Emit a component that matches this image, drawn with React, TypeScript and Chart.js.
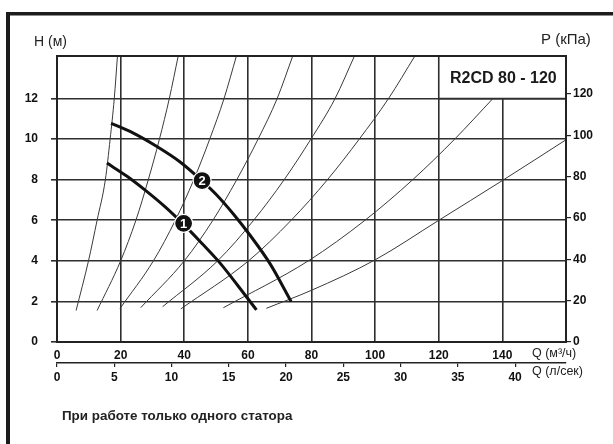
import React, { useEffect, useRef } from 'react';
import { Chart, registerables } from 'chart.js';

Chart.register(...registerables);

// ---- tick labels ----
const qTicksM3h = [0, 20, 40, 60, 80, 100, 120, 140];
const qTicksLs = [0, 5, 10, 15, 20, 25, 30, 35, 40];
const hTicks = [0, 2, 4, 6, 8, 10, 12];
const pTicks = [0, 20, 40, 60, 80, 100, 120];
const qMaxM3h = 160;
const hMax = 14.1;

// ---- pump curves (Q m3/h, H m) ----
const pump1Q = [15.7, 22, 28, 34, 39.7, 45.5, 51.2, 57, 62.7];
const pump1H = [8.82, 8.17, 7.45, 6.66, 5.81, 4.87, 3.9, 2.75, 1.58];
const pump2Q = [17, 24, 31.4, 38.5, 45.5, 50.2, 55.5, 60.5, 67, 73.6];
const pump2H = [10.78, 10.3, 9.64, 8.9, 7.96, 7.25, 6.3, 5.3, 3.85, 1.99];

// ---- system (pipe) curves ----
const sysAQ = [6.0, 9.9, 12.6, 15.2, 16.7, 18.0, 19.0];
const sysAH = [1.55, 4.0, 6.0, 8.0, 10.0, 12.0, 14.1];
const sysBQ = [12.6, 20.0, 24.8, 28.7, 32.2, 35.3, 38.1];
const sysBH = [1.55, 4.0, 6.0, 8.0, 10.0, 12.0, 14.1];
const sysCQ = [19.8, 30.3, 37.2, 43.0, 48.0, 52.5, 56.4];
const sysCH = [1.65, 4.0, 6.0, 8.0, 10.0, 12.0, 14.1];
const sysDQ = [26.3, 40.0, 49.0, 56.5, 63.2, 69.2, 74.1];
const sysDH = [1.69, 4.0, 6.0, 8.0, 10.0, 12.0, 14.1];
const sysEQ = [33.2, 50.5, 61.8, 71.4, 79.8, 87.4, 93.5];
const sysEH = [1.74, 4.0, 6.0, 8.0, 10.0, 12.0, 14.1];
const sysFQ = [38.9, 60.2, 73.6, 85.0, 95.0, 104.2, 112.5];
const sysFH = [1.63, 4.0, 6.0, 8.0, 10.0, 12.0, 14.1];
const sysGQ = [52.3, 79.0, 96.8, 111.8, 125.0, 137.0];
const sysGH = [1.69, 4.0, 6.0, 8.0, 10.0, 12.0];
const sysHQ = [65.8, 80, 100, 120, 140, 160];
const sysHH = [1.66, 2.55, 4.05, 6.0, 7.96, 9.97];

// ---- curve badges ----
const badgeQ = [39.8, 45.6];
const badgeH = [5.85, 7.96];
const badgeLabels = ['1', '2'];

// ---- texts ----
const modelName = 'R2CD 80 - 120';
const hTitle = 'H (м)';
const pTitle = 'P (кПа)';
const qTitleM3h = 'Q (м³/ч)';
const qTitleLs = 'Q (л/сек)';
const note = 'При работе только одного статора';

const FONT = "'Liberation Sans', Arial, Helvetica, sans-serif";
const gridColor = '#2e2e2e';

const pts = (q: number[], h: number[]) => q.map((v, i) => ({ x: v, y: h[i] }));

const systemSets = [
  [sysAQ, sysAH], [sysBQ, sysBH], [sysCQ, sysCH], [sysDQ, sysDH],
  [sysEQ, sysEH], [sysFQ, sysFH], [sysGQ, sysGH], [sysHQ, sysHH],
];

const decorPlugin = {
  id: 'decor',
  afterDatasetsDraw(chart: any) {
    const { ctx, chartArea, scales } = chart;
    const x = scales.x;
    const y = scales.y;
    ctx.save();
    // model box
    const bx = x.getPixelForValue(120);
    const by = y.getPixelForValue(12);
    ctx.fillStyle = '#fff';
    ctx.fillRect(bx, chartArea.top, chartArea.right - bx, by - chartArea.top);
    ctx.strokeStyle = gridColor;
    ctx.lineWidth = 1.6;
    ctx.beginPath();
    ctx.moveTo(bx, chartArea.top);
    ctx.lineTo(bx, by);
    ctx.lineTo(chartArea.right, by);
    ctx.stroke();
    ctx.fillStyle = '#1a1a1a';
    ctx.font = `bold 16px ${FONT}`;
    ctx.textAlign = 'center';
    ctx.textBaseline = 'middle';
    ctx.fillText(modelName, (bx + chartArea.right) / 2 + 1, (chartArea.top + by) / 2 + 1);
    // frame
    ctx.strokeStyle = '#222';
    ctx.lineWidth = 2;
    ctx.strokeRect(chartArea.left, chartArea.top, chartArea.right - chartArea.left, chartArea.bottom - chartArea.top);
    // badge digits
    const meta = chart.getDatasetMeta(0);
    ctx.fillStyle = '#fff';
    ctx.font = `bold 13px ${FONT}`;
    meta.data.forEach((el: any, i: number) => {
      ctx.fillText(badgeLabels[i], el.x, el.y + 1);
    });
    ctx.restore();
  },
  afterDraw(chart: any) {
    const { ctx } = chart;
    ctx.save();
    ctx.fillStyle = '#1c1c1c';
    ctx.fillRect(6, 12, 4, 444 - 12);
    ctx.fillRect(6, 12, 613 - 6, 3.5);
    ctx.fillStyle = '#222';
    ctx.textBaseline = 'middle';
    ctx.textAlign = 'left';
    ctx.font = `14px ${FONT}`;
    ctx.fillText(hTitle, 34, 42);
    ctx.font = `15px ${FONT}`;
    ctx.fillText(pTitle, 541, 40);
    ctx.font = `12.5px ${FONT}`;
    ctx.fillText(qTitleM3h, 532, 354);
    ctx.fillText(qTitleLs, 532, 372);
    ctx.font = `bold 13.4px ${FONT}`;
    ctx.fillText(note, 62, 416);
    ctx.restore();
  },
};

export default function App() {
  const ref = useRef<HTMLCanvasElement | null>(null);
  useEffect(() => {
    if (!ref.current) return;
    const tickFont = { family: FONT, size: 12, weight: 'bold' as const };
    const datasets: any[] = [
      {
        data: pts(badgeQ, badgeH),
        pointRadius: 9,
        pointBackgroundColor: '#111',
        pointBorderColor: '#fff',
        pointBorderWidth: 1.2,
        showLine: false,
        order: 0,
      },
      {
        data: pts(pump1Q, pump1H),
        borderColor: '#111',
        borderWidth: 3,
        pointRadius: 0,
        showLine: true,
        cubicInterpolationMode: 'monotone',
        order: 1,
      },
      {
        data: pts(pump2Q, pump2H),
        borderColor: '#111',
        borderWidth: 3,
        pointRadius: 0,
        showLine: true,
        cubicInterpolationMode: 'monotone',
        order: 1,
      },
      ...systemSets.map(([q, h]) => ({
        data: pts(q, h),
        borderColor: '#3a3a3a',
        borderWidth: 1,
        pointRadius: 0,
        showLine: true,
        cubicInterpolationMode: 'monotone',
        order: 2,
      })),
    ];
    const chart = new Chart(ref.current, {
      type: 'scatter',
      data: { datasets },
      options: {
        animation: false,
        responsive: false,
        devicePixelRatio: 1,
        layout: { padding: { top: 56, left: 0, right: 0, bottom: 0 } },
        plugins: { legend: { display: false }, tooltip: { enabled: false } },
        events: [],
        scales: {
          x: {
            type: 'linear',
            position: 'bottom',
            weight: 0,
            min: 0,
            max: qMaxM3h,
            afterBuildTicks: (s: any) => { s.ticks = qTicksM3h.map((v) => ({ value: v })); },
            afterFit: (s: any) => { s.height = 21; },
            grid: { color: gridColor, lineWidth: 1.6, drawTicks: false },
            border: { display: false },
            ticks: { padding: 6, font: tickFont, color: '#111', maxRotation: 0, autoSkip: false },
          },
          x2: {
            type: 'linear',
            position: 'bottom',
            weight: 1,
            min: 0,
            max: qMaxM3h / 3.6,
            afterBuildTicks: (s: any) => { s.ticks = qTicksLs.map((v) => ({ value: v })); },
            afterFit: (s: any) => { s.height = 81; },
            grid: { drawOnChartArea: false, drawTicks: true, tickLength: 4, color: '#222', lineWidth: 1.2 },
            border: { display: true, color: '#222', width: 1.6 },
            ticks: { padding: 3, font: tickFont, color: '#111', maxRotation: 0, autoSkip: false },
          },
          y: {
            type: 'linear',
            position: 'left',
            min: 0,
            max: hMax,
            afterBuildTicks: (s: any) => { s.ticks = hTicks.map((v) => ({ value: v })); },
            afterFit: (s: any) => { s.width = 57; },
            grid: { color: gridColor, lineWidth: 1.6, drawTicks: true, tickLength: 6 },
            border: { display: false },
            ticks: { padding: 13, font: tickFont, color: '#111', autoSkip: false },
          },
          y2: {
            type: 'linear',
            position: 'right',
            min: 0,
            max: hMax * 9.81,
            afterBuildTicks: (s: any) => { s.ticks = pTicks.map((v) => ({ value: v })); },
            afterFit: (s: any) => { s.width = 47; },
            grid: { drawOnChartArea: false, drawTicks: true, tickLength: 5, color: '#222', lineWidth: 1.2 },
            border: { display: false },
            ticks: { padding: 2, font: tickFont, color: '#111', autoSkip: false },
          },
        },
      } as any,
      plugins: [decorPlugin],
    });
    return () => chart.destroy();
  }, []);

  return (
    <div style={{ position: 'fixed', left: 0, top: 0, width: 613, height: 444, background: '#fff' }}>
      <canvas ref={ref} width={613} height={444} style={{ display: 'block', width: 613, height: 444 }} />
    </div>
  );
}
